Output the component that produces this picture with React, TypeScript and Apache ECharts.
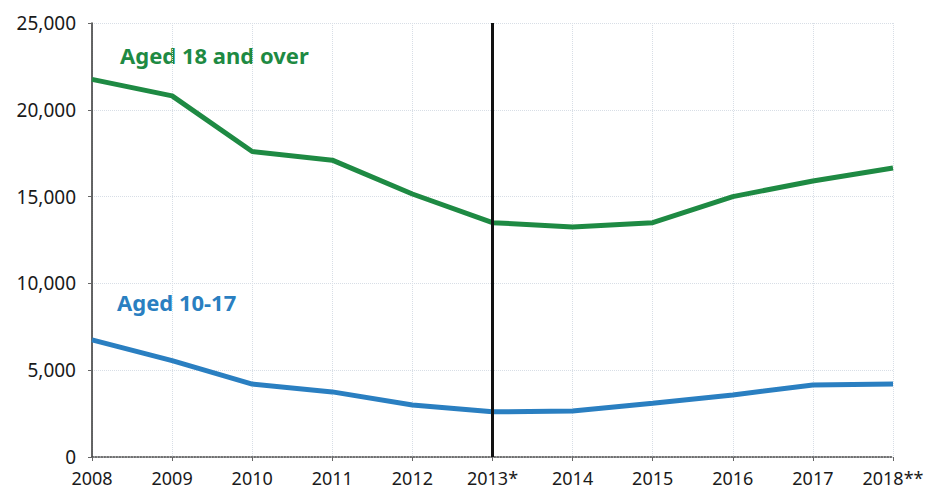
import React, { useEffect, useRef } from "react";
import * as echarts from "echarts";

const categories = ["2008", "2009", "2010", "2011", "2012", "2013*", "2014", "2015", "2016", "2017", "2018**"];
const aged18Over = [21750, 20800, 17600, 17100, 15150, 13500, 13250, 13500, 15000, 15900, 16650];
const aged10to17 = [6750, 5550, 4200, 3750, 3000, 2600, 2650, 3100, 3570, 4150, 4200];
const dividerCategory = "2013*";

const GREEN = "#1e8a43";
const BLUE = "#2a7fc1";
const FONT = "'Noto Sans', 'Open Sans', sans-serif";

export default function App() {
  const ref = useRef<HTMLDivElement>(null);
  useEffect(() => {
    if (!ref.current) return;
    const chart = echarts.init(ref.current, null, { renderer: "svg" });
    chart.setOption({
      animation: false,
      backgroundColor: "#ffffff",
      grid: { left: 92, right: 34, top: 23, bottom: 38, containLabel: false },
      xAxis: {
        type: "category",
        data: categories,
        boundaryGap: false,
        axisLine: { show: true, lineStyle: { color: "#444", width: 1.5, type: "dotted" } },
        axisTick: { show: true, alignWithLabel: true, interval: 0, length: 4, lineStyle: { color: "#666" } },
        axisLabel: {
          color: "#1a1a1a",
          fontSize: 18,
          fontFamily: FONT,
          margin: 12,
          interval: 0,
          hideOverlap: false,
        },
        splitLine: { show: true, interval: 0, lineStyle: { color: "#d8dee6", type: "dotted", width: 1 } },
      },
      yAxis: {
        type: "value",
        min: 0,
        max: 25000,
        interval: 5000,
        axisLine: { show: true, lineStyle: { color: "#333", width: 1.5 } },
        axisTick: { show: true, length: 4, lineStyle: { color: "#666" } },
        axisLabel: {
          color: "#1a1a1a",
          fontSize: 19,
          fontFamily: FONT,
          margin: 16,
          formatter: (v: number) => v.toLocaleString("en-US"),
        },
        splitLine: { show: true, lineStyle: { color: "#d8dee6", type: "dotted", width: 1 } },
      },
      graphic: [
        {
          type: "text",
          left: 120,
          top: 44,
          style: { text: "Aged 18 and over", fill: GREEN, font: `bold 22px ${FONT}` },
        },
        {
          type: "text",
          left: 117,
          top: 291,
          style: { text: "Aged 10-17", fill: BLUE, font: `bold 22px ${FONT}` },
        },
      ],
      series: [
        {
          name: "Aged 18 and over",
          type: "line",
          data: aged18Over,
          symbol: "none",
          lineStyle: { color: GREEN, width: 5 },
          markLine: {
            silent: true,
            symbol: "none",
            label: { show: false },
            lineStyle: { color: "#111", width: 3, type: "solid" },
            data: [{ xAxis: dividerCategory }],
          },
        },
        {
          name: "Aged 10-17",
          type: "line",
          data: aged10to17,
          symbol: "none",
          lineStyle: { color: BLUE, width: 5 },
        },
      ],
    });
    return () => chart.dispose();
  }, []);
  return <div ref={ref} style={{ width: 927, height: 495, position: "absolute", left: 0, top: 0 }} />;
}
